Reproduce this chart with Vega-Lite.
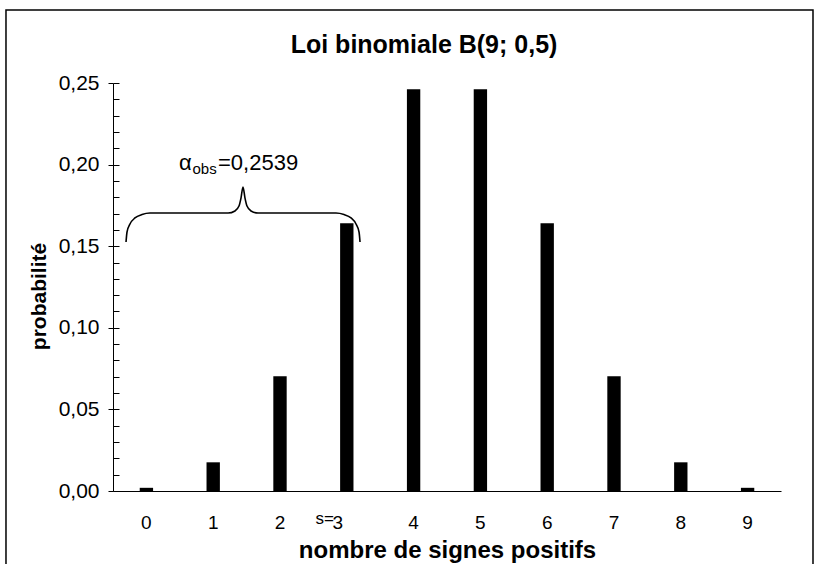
{
  "$schema": "https://vega.github.io/schema/vega-lite/v6.json",
  "width": 668,
  "height": 408,
  "autosize": {"type": "none"},
  "padding": {"left": 113, "top": 83, "right": 39, "bottom": 73},
  "background": "white",
  "config": {"view": {"stroke": null}, "font": "Liberation Sans"},
  "datasets": {
    "probs": [
      {"k": 0, "p": 0.001953},
      {"k": 1, "p": 0.017578},
      {"k": 2, "p": 0.070313},
      {"k": 3, "p": 0.164063},
      {"k": 4, "p": 0.246094},
      {"k": 5, "p": 0.246094},
      {"k": 6, "p": 0.164063},
      {"k": 7, "p": 0.070313},
      {"k": 8, "p": 0.017578},
      {"k": 9, "p": 0.001953}
    ],
    "brace": [
      {"bx": -0.305, "by": 0.1526},
      {"bx": -0.290, "by": 0.1587},
      {"bx": -0.246, "by": 0.1636},
      {"bx": -0.171, "by": 0.1673},
      {"bx": -0.066, "by": 0.1694},
      {"bx": 0.054, "by": 0.1703},
      {"bx": 1.222, "by": 0.1703},
      {"bx": 1.326, "by": 0.1716},
      {"bx": 1.386, "by": 0.1746},
      {"bx": 1.416, "by": 0.1795},
      {"bx": 1.446, "by": 0.1863},
      {"bx": 1.476, "by": 0.1795},
      {"bx": 1.506, "by": 0.1746},
      {"bx": 1.566, "by": 0.1716},
      {"bx": 1.671, "by": 0.1703},
      {"bx": 2.838, "by": 0.1703},
      {"bx": 2.958, "by": 0.1694},
      {"bx": 3.063, "by": 0.1673},
      {"bx": 3.138, "by": 0.1636},
      {"bx": 3.183, "by": 0.1587},
      {"bx": 3.198, "by": 0.1526}
    ],
    "frame": [{"x1": -2.102, "x2": 9.979, "y1": 0.2947, "y2": -0.08}],
    "titletext": [{"bx": 4.156, "by": 0.2684, "t": "Loi binomiale B(9; 0,5)"}],
    "bigtext": [
      {"bx": 0.488, "by": 0.1967, "t": "α"},
      {"bx": 1.072, "by": 0.1967, "t": "=0,2539"}
    ],
    "subtext": [{"bx": 0.69, "by": 0.1945, "t": "obs"}],
    "stext": [{"bx": 2.808, "by": -0.0202, "t": "s="}]
  },
  "layer": [
    {
      "data": {"name": "frame"},
      "mark": {"type": "rect", "fill": null, "stroke": "black", "strokeWidth": 1.5, "clip": false},
      "encoding": {
        "x": {"field": "x1", "type": "quantitative", "scale": {"domain": [-0.5, 9.5], "nice": false, "zero": false}, "axis": null},
        "x2": {"field": "x2"},
        "y": {"field": "y1", "type": "quantitative", "scale": {"domain": [0, 0.25], "nice": false}, "axis": null},
        "y2": {"field": "y2"}
      }
    },
    {
      "data": {"name": "probs"},
      "mark": {"type": "bar", "color": "black"},
      "encoding": {
        "x": {
          "field": "k", "type": "ordinal",
          "scale": {"paddingInner": 0.8, "paddingOuter": 0.4},
          "axis": {
            "title": "nombre de signes positifs", "titleFontSize": 24, "titleFont": "Liberation Sans", "titleFontWeight": "bold", "titleColor": "black",
            "labelAngle": 0, "labelFontSize": 19, "labelColor": "black", "labelFont": "Liberation Sans",
            "ticks": false, "tickSize": 0, "domainColor": "black", "domainWidth": 1,
            "labelPadding": 22, "titlePadding": 6,
            "labelOffset": {"condition": {"test": "datum.value == 3", "value": -9}, "value": 0}
          }
        },
        "y": {
          "field": "p", "type": "quantitative",
          "scale": {"domain": [0, 0.25], "nice": false},
          "axis": {
            "orient": "left", "title": "probabilité", "values": [0, 0.05, 0.1, 0.15, 0.2, 0.25],
            "labelExpr": "replace(format(datum.value, '.2f'), '.', ',')",
            "tickSize": 5, "tickColor": "black", "domainColor": "black", "grid": false,
            "labelFontSize": 21, "labelColor": "black", "labelFont": "Liberation Sans", "labelPadding": 9,
            "titleFontSize": 21, "titleFontWeight": "bold", "titleColor": "black", "titleFont": "Liberation Sans", "titlePadding": 9,
            "titleY": 213
          }
        }
      }
    },
    {
      "data": {"name": "brace"},
      "mark": {"type": "line", "color": "black", "strokeWidth": 1.6, "interpolate": "monotone"},
      "encoding": {
        "x": {"field": "bx", "type": "quantitative", "scale": {"domain": [-0.5, 9.5], "nice": false, "zero": false}, "axis": null},
        "y": {
          "field": "by", "type": "quantitative", "scale": {"domain": [0, 0.25], "nice": false},
          "axis": {
            "orient": "left", "values": [0, 0.01, 0.02, 0.03, 0.04, 0.05, 0.06, 0.07, 0.08, 0.09, 0.1, 0.11, 0.12, 0.13, 0.14, 0.15, 0.16, 0.17, 0.18, 0.19, 0.2, 0.21, 0.22, 0.23, 0.24, 0.25],
            "tickSize": -6, "tickColor": "black", "labels": false, "domain": false, "title": null, "grid": false
          }
        }
      }
    },
    {
      "data": {"name": "titletext"},
      "mark": {"type": "text", "align": "center", "baseline": "alphabetic", "fontSize": 25, "fontWeight": "bold", "font": "Liberation Sans", "color": "black"},
      "encoding": {
        "x": {"field": "bx", "type": "quantitative", "scale": {"domain": [-0.5, 9.5], "nice": false, "zero": false}, "axis": null},
        "y": {"field": "by", "type": "quantitative", "scale": {"domain": [0, 0.25], "nice": false}, "axis": null},
        "text": {"field": "t"}
      }
    },
    {
      "data": {"name": "bigtext"},
      "mark": {"type": "text", "align": "left", "baseline": "alphabetic", "fontSize": 22, "font": "Liberation Sans", "color": "black"},
      "encoding": {
        "x": {"field": "bx", "type": "quantitative", "scale": {"domain": [-0.5, 9.5], "nice": false, "zero": false}, "axis": null},
        "y": {"field": "by", "type": "quantitative", "scale": {"domain": [0, 0.25], "nice": false}, "axis": null},
        "text": {"field": "t"}
      }
    },
    {
      "data": {"name": "subtext"},
      "mark": {"type": "text", "align": "left", "baseline": "alphabetic", "fontSize": 15, "font": "Liberation Sans", "color": "black"},
      "encoding": {
        "x": {"field": "bx", "type": "quantitative", "scale": {"domain": [-0.5, 9.5], "nice": false, "zero": false}, "axis": null},
        "y": {"field": "by", "type": "quantitative", "scale": {"domain": [0, 0.25], "nice": false}, "axis": null},
        "text": {"field": "t"}
      }
    },
    {
      "data": {"name": "stext"},
      "mark": {"type": "text", "align": "right", "baseline": "alphabetic", "fontSize": 17, "font": "Liberation Sans", "color": "black"},
      "encoding": {
        "x": {"field": "bx", "type": "quantitative", "scale": {"domain": [-0.5, 9.5], "nice": false, "zero": false}, "axis": null},
        "y": {"field": "by", "type": "quantitative", "scale": {"domain": [0, 0.25], "nice": false}, "axis": null},
        "text": {"field": "t"}
      }
    }
  ],
  "resolve": {"scale": {"x": "independent"}, "axis": {"y": "independent"}}
}
